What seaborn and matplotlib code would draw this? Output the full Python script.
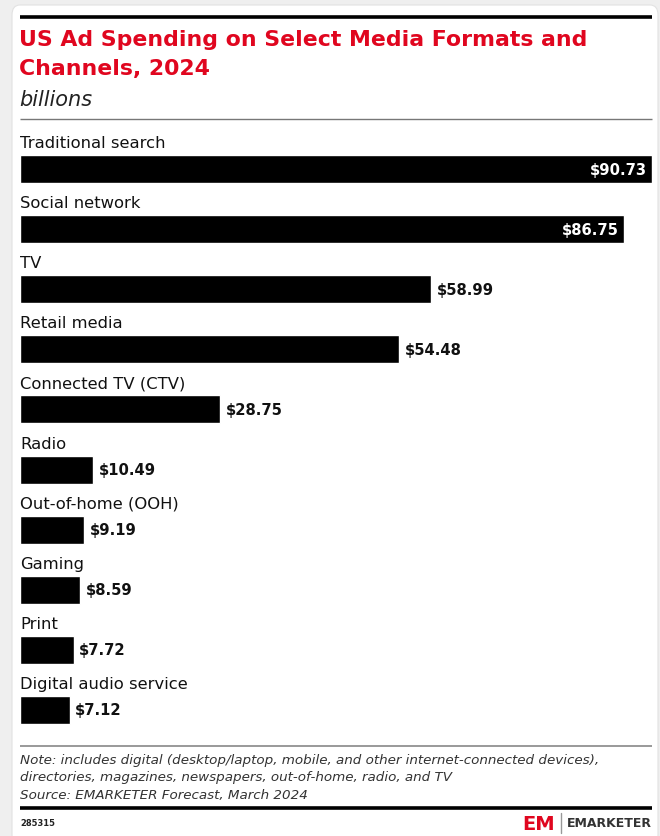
import matplotlib
matplotlib.use("Agg")
import matplotlib.pyplot as plt
from matplotlib.patches import FancyBboxPatch
from matplotlib.lines import Line2D
import pandas as pd
import seaborn as sns

# Chart data
categories = [
    "Traditional search", "Social network", "TV", "Retail media",
    "Connected TV (CTV)", "Radio", "Out-of-home (OOH)", "Gaming",
    "Print", "Digital audio service",
]
values = [90.73, 86.75, 58.99, 54.48, 28.75, 10.49, 9.19, 8.59, 7.72, 7.12]

title_lines = ["US Ad Spending on Select Media Formats and", "Channels, 2024"]
subtitle_text = "billions"
note_lines = [
    "Note: includes digital (desktop/laptop, mobile, and other internet-connected devices),",
    "directories, magazines, newspapers, out-of-home, radio, and TV",
    "Source: EMARKETER Forecast, March 2024",
]
chart_id = "285315"
brand = "EMARKETER"

RED = "#e0061f"
INK = "#111111"
W, H = 660, 836

sns.set_theme(style="white")
plt.rcParams["font.family"] = ["DejaVu Sans"]

fig = plt.figure(figsize=(W / 100, H / 100), dpi=100)
fig.patch.set_facecolor("#efefef")


def fx(px):
    return px / W


def fy(py):
    return 1 - py / H


# white card behind everything
card = FancyBboxPatch((fx(12), fy(845)), fx(646), (845 - 5) / H,
                      boxstyle="round,pad=0,rounding_size=0.012",
                      transform=fig.transFigure, facecolor="white",
                      edgecolor="#e2e2e2", linewidth=0.8, zorder=-10)
fig.patches.append(card)


def hrule(y, color, lw):
    fig.add_artist(Line2D([fx(20), fx(652)], [fy(y), fy(y)], color=color, lw=lw,
                          transform=fig.transFigure, solid_capstyle="butt"))


hrule(17, "black", 2.6)
hrule(119, "#777777", 1.0)
hrule(746, "#888888", 1.2)
hrule(808, "black", 2.6)

# titles
for k, line in enumerate(title_lines):
    fig.text(fx(19), fy(46 + 29 * k), line, color=RED, fontsize=15.8,
             fontweight="bold", va="baseline", ha="left")
fig.text(fx(19), fy(106), subtitle_text, color="#222222", fontsize=15,
         fontstyle="oblique", va="baseline", ha="left")

# bars
df = pd.DataFrame({"category": categories, "value": values})
row_px = 60
top_px, bot_px = 125, 740
ax = fig.add_axes([fx(20), fy(bot_px), fx(652) - fx(20), (bot_px - top_px) / H])
ax.set_zorder(2)
sns.barplot(data=df, x="value", y="category", orient="h", color="black",
            saturation=1, width=28 / row_px, ax=ax)
ax.set_xlim(0, max(values))
ax.set_ylim((bot_px - 710) / row_px + 9, -(169 - top_px) / row_px)
ax.set_facecolor("none")
for s in ax.spines.values():
    s.set_visible(False)
ax.set_xticks([])
ax.set_yticks([])
ax.set_xlabel("")
ax.set_ylabel("")

vmax = max(values)
for i, (cat, v) in enumerate(zip(categories, values)):
    ax.text(0, i - 21 / row_px, cat, ha="left", va="baseline", fontsize=11.8,
            color=INK)
    label = f"${v:.2f}"
    if v > 0.9 * vmax:
        ax.annotate(label, (v, i + 5.5 / row_px), xytext=(-4, 0),
                    textcoords="offset points", ha="right", va="baseline",
                    color="white", fontsize=10.6, fontweight="bold")
    else:
        ax.annotate(label, (v, i + 5.5 / row_px), xytext=(4, 0),
                    textcoords="offset points", ha="left", va="baseline",
                    color=INK, fontsize=10.6, fontweight="bold")

# notes
for k, line in enumerate(note_lines):
    fig.text(fx(20), fy(764 + 17.5 * k), line, fontsize=9.7, fontstyle="oblique",
             color="#333333", va="baseline", ha="left")

# footer
fig.text(fx(20), fy(826), chart_id, fontsize=6, fontweight="bold",
         color="#222222", va="baseline", ha="left")
fig.text(fx(652), fy(827), brand, fontsize=9, fontweight="bold",
         color="#333333", va="baseline", ha="right")
fig.add_artist(Line2D([fx(561), fx(561)], [fy(813), fy(833)], color="#999999", lw=1,
                      transform=fig.transFigure))
fig.text(fx(539), fy(830), "EM", fontsize=14, fontweight="bold",
         color=RED, va="baseline", ha="center")

fig.savefig("out.png", dpi=100, facecolor=fig.get_facecolor())
